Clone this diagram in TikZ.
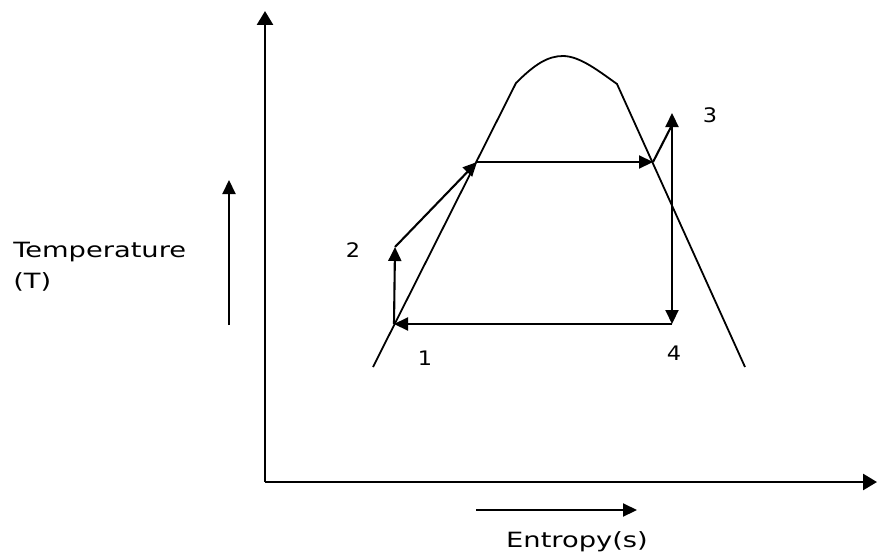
\documentclass[tikz,border=0pt]{standalone}
\usepackage{fontspec}
\setmainfont{DejaVu Sans}
\usetikzlibrary{arrows.meta}
\tikzset{
  axisline/.style={line width=2.6pt,-{Triangle[length=14pt,width=16pt]}},
  cycleline/.style={line width=2.1pt},
  fwd/.style={-{Triangle[length=14pt,width=13pt]}},
  both/.style={{Triangle[length=14pt,width=13pt]}-{Triangle[length=14pt,width=13pt]}},
  curveline/.style={line width=1.8pt},
  lbl/.style={font=\fontsize{20}{22}\selectfont,inner sep=0pt,xscale=1.12,anchor=base},
  axlbl/.style={font=\fontsize{21}{23}\selectfont,inner sep=0pt,xscale=1.3,anchor=base west}
}
\begin{document}
\begin{tikzpicture}[x=1pt,y=-1pt]
\useasboundingbox (0,0) rectangle (877,551);
% axes
\coordinate (O) at (265,482);
\coordinate (Ytop) at (265,11);
\coordinate (Xend) at (877,482);
\draw[axisline] (O) -- (Ytop);
\draw[axisline] (O) -- (Xend);
% direction arrows
\coordinate (Ta) at (229,325);
\coordinate (Tb) at (229,180);
\draw[cycleline,fwd] (Ta) -- (Tb);
\coordinate (Sa) at (476,510);
\coordinate (Sb) at (637,510);
\draw[cycleline,fwd] (Sa) -- (Sb);
% axis labels
\node[axlbl] (tlab) at (13,257) {Temperature};
\node[axlbl] (tlab2) at (13,288) {(T)};
\node[axlbl,anchor=base] (slab) at (577,547) {Entropy(s)};
% dome
\draw[curveline] (373,367) -- (516,83) .. controls (535,64) and (548,56) .. (563,56)
  .. controls (580,56) and (600,72) .. (617,84) -- (745,367);
% cycle points
\coordinate (p1) at (394,324);
\coordinate (p2) at (395,247);
\coordinate (pa) at (477,162);
\coordinate (pb) at (653,162);
\coordinate (p3) at (672,113);
\coordinate (p4) at (672,324);
\draw[cycleline,fwd] (p1) -- (p2);
\draw[cycleline,fwd] (p2) -- (pa);
\draw[cycleline,fwd] (pa) -- (pb);
\draw[cycleline] (pb) -- ([yshift=-12pt]p3);
\draw[cycleline,both] (p3) -- (p4);
\draw[cycleline,fwd] (p4) -- (p1);
% labels
\node[lbl] (l1) at (425,365) {1};
\node[lbl] (l2) at (353,257) {2};
\node[lbl] (l3) at (710,122) {3};
\node[lbl] (l4) at (674,360) {4};
\end{tikzpicture}
\end{document}
